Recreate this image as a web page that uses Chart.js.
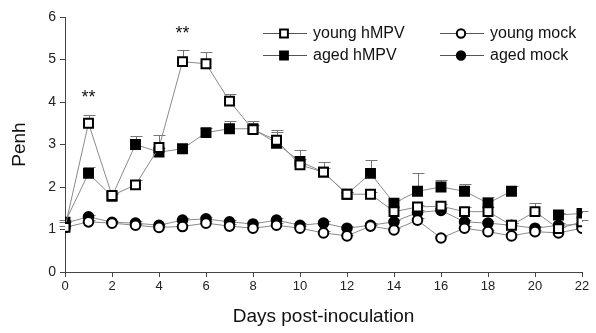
<!DOCTYPE html>
<html>
<head>
<meta charset="utf-8">
<script src="https://cdn.jsdelivr.net/npm/chart.js@4/dist/chart.umd.min.js"></script>
<style>
  body { margin: 0; background: #fff; }
  canvas { display: block; }
</style>
</head>
<body>
<canvas id="chart" width="596" height="333"></canvas>
<script>
// days post-inoculation
var days = [0,1,2,3,4,5,6,7,8,9,10,11,12,13,14,15,16,17,18,19,20,21,22];
var xTicks = [0,2,4,6,8,10,12,14,16,18,20,22];

// mean Penh per group
var youngHmpv = [1.05,3.5,1.8,2.05,2.93,4.95,4.9,4.02,3.35,3.1,2.52,2.35,1.83,1.83,1.42,1.53,1.55,1.42,1.42,1.1,1.42,1.02,1.18];
var agedHmpv  = [1.17,2.32,1.78,3.0,2.82,2.9,3.28,3.37,3.37,3.03,2.6,2.35,1.83,2.32,1.62,1.9,2.0,1.9,1.62,1.9,null,1.34,1.38];
var youngMock = [1.05,1.18,1.15,1.1,1.05,1.07,1.15,1.08,1.03,1.1,1.03,0.92,0.85,1.08,0.99,1.22,0.8,1.03,0.95,0.85,0.95,0.92,1.03];
var agedMock  = [1.15,1.3,1.17,1.15,1.1,1.22,1.25,1.18,1.13,1.22,1.1,1.15,1.03,1.1,1.18,1.4,1.45,1.18,1.15,1.1,1.03,1.1,1.12];

// upper error (SEM)
var youngHmpvErr = [0,0.19,0.05,0.12,0.3,0.28,0.28,0.18,0.1,0.2,0.15,0.1,0.05,0.05,0.05,0.05,0.05,0.1,0.1,0.05,0.2,0.05,0.05];
var agedHmpvErr  = [0.05,0.15,0.05,0.2,0.1,0.12,0.12,0.18,0.18,0.3,0.27,0.25,0.05,0.31,0.08,0.42,0.17,0.18,0.15,0.12,0,0.05,0.05];
var youngMockErr = [0.03,0.05,0.03,0.03,0.03,0.03,0.05,0.05,0.03,0.05,0.05,0.05,0.03,0.03,0.05,0.05,0.05,0.05,0.05,0.05,0.05,0.05,0];
var agedMockErr  = [0.03,0.05,0.03,0.05,0.03,0.05,0.05,0.05,0.05,0.05,0.05,0.05,0.05,0.05,0.05,0.05,0.05,0.05,0.05,0.05,0.05,0.05,0];

var stars = [{ x: 1, y: 4.1, text: '**' }, { x: 5, y: 5.6, text: '**' }];

var FONT = '"Liberation Sans", Arial, sans-serif';

function toPoints(vals) {
  return days.map(function(d, i) { return { x: d, y: vals[i] }; });
}

function series(label, vals, errs, style, filled) {
  return {
    label: label,
    data: toPoints(vals),
    errors: errs,
    borderColor: '#8a8a8a',
    borderWidth: 1,
    pointStyle: style,
    pointRadius: style === 'rect' ? 6.3 : 4.8,
    pointBorderWidth: 2,
    pointBorderColor: '#000',
    pointBackgroundColor: filled ? '#000' : '#fff',
    spanGaps: false,
    tension: 0
  };
}

var errorBars = {
  id: 'errorBars',
  beforeDatasetsDraw: function(chart) {
    var ctx = chart.ctx, xs = chart.scales.x, ys = chart.scales.y;
    ctx.save();
    ctx.strokeStyle = '#777';
    ctx.lineWidth = 1;
    chart.data.datasets.forEach(function(ds) {
      ds.data.forEach(function(p, i) {
        var e = ds.errors[i];
        if (p.y == null || !e) return;
        var px = Math.round(xs.getPixelForValue(p.x)) + 0.5;
        var y0 = ys.getPixelForValue(p.y);
        var y1 = Math.round(ys.getPixelForValue(p.y + e)) + 0.5;
        ctx.beginPath();
        ctx.moveTo(px, y0);
        ctx.lineTo(px, y1);
        ctx.moveTo(px - 6, y1);
        ctx.lineTo(px + 6, y1);
        ctx.stroke();
      });
    });
    ctx.restore();
  }
};

var extras = {
  id: 'extras',
  afterDraw: function(chart) {
    var ctx = chart.ctx, xs = chart.scales.x, ys = chart.scales.y;
    ctx.save();
    // significance marks
    ctx.fillStyle = '#111';
    ctx.font = '18px ' + FONT;
    ctx.textAlign = 'center';
    ctx.textBaseline = 'middle';
    stars.forEach(function(s) {
      ctx.fillText(s.text, xs.getPixelForValue(s.x), ys.getPixelForValue(s.y));
    });
    // legend: line - marker - line, two columns
    var items = [
      { ds: 0, x: 263, y: 33 }, { ds: 1, x: 263, y: 55 },
      { ds: 2, x: 440, y: 33 }, { ds: 3, x: 440, y: 55 }
    ];
    ctx.font = '16px ' + FONT;
    ctx.textAlign = 'left';
    items.forEach(function(it) {
      var ds = chart.data.datasets[it.ds];
      ctx.strokeStyle = '#555';
      ctx.lineWidth = 1;
      ctx.beginPath();
      ctx.moveTo(it.x, it.y + 0.5);
      ctx.lineTo(it.x + 44, it.y + 0.5);
      ctx.stroke();
      ctx.fillStyle = ds.pointBackgroundColor;
      ctx.strokeStyle = '#000';
      ctx.lineWidth = 2;
      Chart.helpers.drawPoint(ctx, {
        pointStyle: ds.pointStyle,
        radius: ds.pointStyle === 'rect' ? 5.5 : 4.2,
        rotation: 0,
        borderWidth: 2
      }, it.x + 21, it.y + 0.5);
      ctx.fillStyle = '#111';
      ctx.fillText(ds.label, it.x + 50, it.y + 1);
    });
    ctx.restore();
  }
};

// draw order: first dataset ends up on top
var datasets = [
  series('young hMPV', youngHmpv, youngHmpvErr, 'rect', false),
  series('aged hMPV', agedHmpv, agedHmpvErr, 'rect', true),
  series('young mock', youngMock, youngMockErr, 'circle', false),
  series('aged mock', agedMock, agedMockErr, 'circle', true)
];

new Chart(document.getElementById('chart').getContext('2d'), {
  type: 'line',
  data: { datasets: datasets },
  options: {
    responsive: false,
    animation: false,
    layout: { padding: { top: 17, right: 14, left: 0, bottom: 0 } },
    plugins: {
      legend: { display: false },
      tooltip: { enabled: false }
    },
    scales: {
      x: {
        type: 'linear',
        min: 0,
        max: 22,
        afterBuildTicks: function(scale) {
          scale.ticks = xTicks.map(function(v) { return { value: v }; });
        },
        afterFit: function(scale) { scale.height = 61; },
        grid: { drawOnChartArea: false, tickLength: 5, color: '#444' },
        border: { color: '#444', width: 1 },
        ticks: { color: '#222', font: { family: FONT, size: 13 }, padding: 2, maxRotation: 0 },
        title: {
          display: true,
          text: 'Days post-inoculation',
          color: '#111',
          font: { family: FONT, size: 19 },
          padding: { top: 8, bottom: 5 }
        }
      },
      y: {
        min: 0,
        max: 6,
        ticks: { stepSize: 1, color: '#222', font: { family: FONT, size: 14 }, padding: 4 },
        afterFit: function(scale) { scale.width = 65; },
        grid: { drawOnChartArea: false, tickLength: 5, color: '#444' },
        border: { color: '#444', width: 1 },
        title: {
          display: true,
          text: 'Penh',
          color: '#111',
          font: { family: FONT, size: 19 },
          padding: { top: 8, bottom: 6 }
        }
      }
    }
  },
  plugins: [errorBars, extras]
});
</script>
</body>
</html>
